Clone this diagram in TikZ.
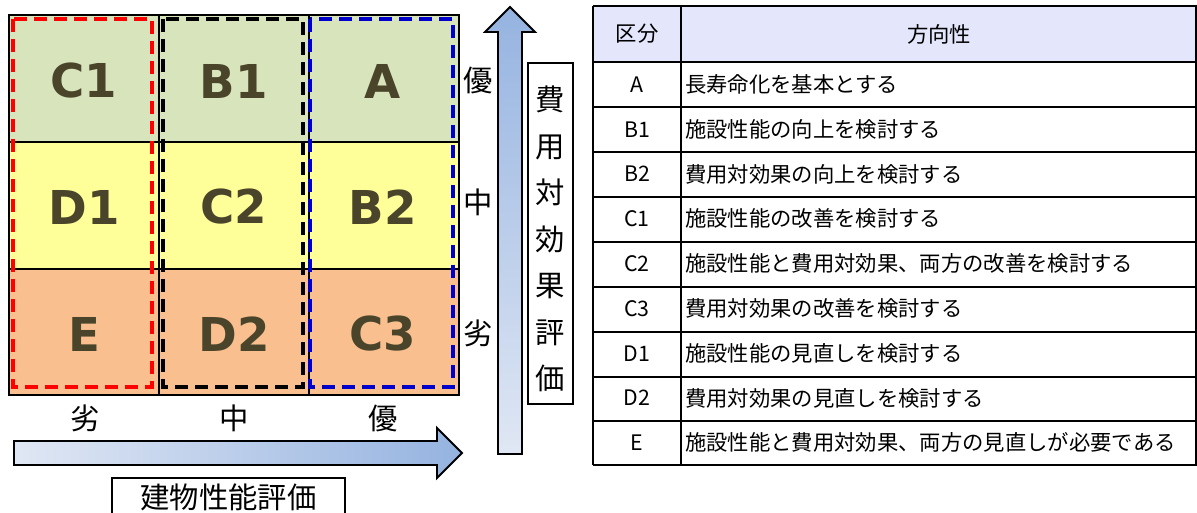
\documentclass[tikz,border=0pt]{standalone}
\usepackage{fontspec}
\newfontfamily\jp{Noto Sans CJK JP}
\newfontfamily\dv{DejaVu Sans}
\definecolor{gcol}{HTML}{D8E4BC}
\definecolor{ycol}{HTML}{FFFF99}
\definecolor{ocol}{HTML}{F9BF8F}
\definecolor{lcol}{HTML}{4A452A}
\definecolor{hcol}{HTML}{E4E6FB}
\definecolor{adark}{HTML}{95B3E0}
\definecolor{alight}{HTML}{E0E7F4}
\definecolor{dblue}{HTML}{0000CC}
\begin{document}
\begin{tikzpicture}[x=0.75pt,y=-0.75pt,
  cell/.style={font=\dv\bfseries\fontsize{35}{35}\selectfont, text=lcol, inner sep=0pt},
  axlab/.style={font=\jp\fontsize{22}{22}\selectfont, inner sep=0pt},
  tb/.style={font=\jp\fontsize{16}{16}\selectfont, inner sep=0pt},
  grid/.style={line width=1.6pt},
  dbox/.style={line width=3.4pt, dash pattern=on 9.5pt off 5.5pt},
  arrowbody/.style={draw=black, line width=1.4pt, line join=miter},
  tline/.style={line width=1.3pt}]
\useasboundingbox (0,0) rectangle (1197,513);
% matrix cells
\fill[gcol] (9,15) rectangle (459,142);
\fill[ycol] (9,142) rectangle (459,269);
\fill[ocol] (9,269) rectangle (459,395);
\draw[grid] (9,15) rectangle (459,395);
\draw[grid] (159,15) -- (159,395) (309,15) -- (309,395)
            (9,142) -- (459,142) (9,269) -- (459,269);
\draw[dbox, red] (13,19) rectangle (152,387);
\draw[dbox, black] (163,19) rectangle (303,387);
\draw[dbox, dblue] (310,19) rectangle (453,387);
\node[cell] (c1) at (84,81) {C1};
\node[cell] (b1) at (234,81) {B1};
\node[cell] (a)  at (383,81) {A};
\node[cell] (d1) at (84,207) {D1};
\node[cell] (c2) at (234,207) {C2};
\node[cell] (b2) at (383,207) {B2};
\node[cell] (e)  at (84,334) {E};
\node[cell] (d2) at (234,334) {D2};
\node[cell] (c3) at (383,334) {C3};
% axis labels
\node[axlab] (ry1) at (478,80) {優};
\node[axlab] (ry2) at (478,202) {中};
\node[axlab] (ry3) at (478,333) {劣};
\node[axlab] (cx1) at (85,418) {劣};
\node[axlab] (cx2) at (234,418) {中};
\node[axlab] (cx3) at (383,418) {優};
% horizontal arrow
\shade[arrowbody, left color=alight, right color=adark]
  (14,441) -- (437,441) -- (437,428) -- (462,453) -- (437,478) -- (437,465) -- (14,465) -- cycle;
% vertical arrow
\shade[arrowbody, top color=adark, bottom color=alight]
  (498,454) -- (498,32) -- (485,32) -- (510,7) -- (535,32) -- (522,32) -- (522,454) -- cycle;
% vertical label
\node[draw, line width=1.3pt, minimum width=33.75pt, minimum height=255.75pt, inner sep=0pt] (vbox) at (550.5,233.5) {};
\node[font=\jp\fontsize{22}{34.9}\selectfont, align=center, inner sep=0pt] (vlab) at (550.5,239)
  {費\\用\\対\\効\\果\\評\\価};
% bottom label
\node[draw, line width=1.3pt, minimum width=174.75pt, minimum height=39pt, inner sep=0pt] (hbox) at (228.5,504) {};
\node[font=\jp\fontsize{22}{22}\selectfont, inner sep=0pt] (hlab) at (228.5,497) {建物性能評価};
% table
\fill[hcol] (593,6) rectangle (1197,62);
\foreach \yy in {6,62,107,152,197,242,287,332,377,421,465}
  \draw[tline] (593,\yy) -- (1197,\yy);
\draw[tline] (593,6) -- (593,465) (681,6) -- (681,465) (1196,6) -- (1196,465);
\node[tb] (h1) at (637,34) {区分};
\node[tb] (h2) at (939,34) {方向性};
\foreach \k/\t [count=\i] in {
  A/長寿命化を基本とする,
  B1/施設性能の向上を検討する,
  B2/費用対効果の向上を検討する,
  C1/施設性能の改善を検討する,
  C2/施設性能と費用対効果、両方の改善を検討する,
  C3/費用対効果の改善を検討する,
  D1/施設性能の見直しを検討する,
  D2/費用対効果の見直しを検討する,
  E/施設性能と費用対効果、両方の見直しが必要である}{
  \node[tb] (k\i) at (637,{62+(\i-0.5)*44.8}) {\k};
  \node[tb, anchor=west] (t\i) at (685,{62+(\i-0.5)*44.8}) {\t};
}
\end{tikzpicture}
\end{document}
